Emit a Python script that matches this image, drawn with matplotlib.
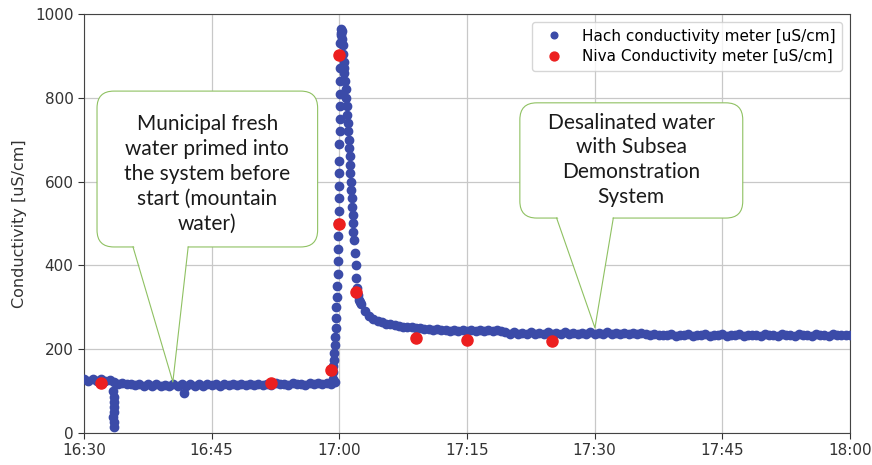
import numpy as np
import pandas as pd
import matplotlib
matplotlib.use("Agg")
import matplotlib.pyplot as plt
import matplotlib.dates as mdates
from matplotlib.patches import FancyBboxPatch, Polygon

# Hach meter, regular logging (minutes after 16:30, every 0.5 min)
hach_pre_start = 0.0
hach_pre_vals = [128, 124, 129, 125, 128, 124, 127,
                 122, 118, 120, 116, 118, 114, 117, 113, 116, 113, 116, 112, 115, 112,
                 116, 113, 116, 113, 117, 113, 116, 113, 117, 114, 116, 113, 117, 114, 117, 114, 117, 114, 118, 114,
                 118, 115, 118, 115, 119, 116, 118, 115, 119, 116, 118, 115, 119, 116, 119, 116, 119, 117, 122]
hach_post_start = 32.5
hach_post_vals = [308, 290, 279, 272, 267, 264, 261, 259, 257, 256, 254, 253, 252, 251, 250, 249,
                  248, 246, 248, 245, 247, 244, 247, 244, 246, 244, 246, 243, 246, 243, 246, 243, 245, 243,
                  240, 237, 240, 237, 239, 237, 240, 236, 239, 237, 240, 236, 239, 237, 240, 236, 239,
                  237, 239, 236, 240, 237, 239, 236, 240, 237, 239, 236, 239, 237, 239, 236, 239,
                  236, 233, 236, 233, 235, 233, 236, 232, 235, 233, 236, 232, 235, 233, 236, 232, 235,
                  233, 236, 232, 235, 233, 236, 232, 235, 233, 235, 232, 236, 233, 235, 232, 236, 233,
                  235, 232, 236, 233, 235, 232, 236, 233, 235, 232, 236, 233, 235, 233, 235]

# Hach meter, extra readings (dip, outlier and the peak)
hach_extra_t = [3.45, 3.5, 3.5, 3.55, 3.5, 3.45, 3.5, 3.5, 11.7,
                29.2, 29.25, 29.3, 29.35, 29.4, 29.45, 29.5, 29.55, 29.6, 29.65, 29.7, 29.75,
                29.8, 29.83, 29.86, 29.88, 29.9, 29.92, 29.94, 29.96, 29.98, 30.0, 30.01, 30.02,
                30.03, 30.04, 30.05, 30.06, 30.08, 30.1, 30.12, 30.15,
                30.2, 30.25, 30.3, 30.35, 30.4, 30.45, 30.5, 30.55,
                30.6, 30.7, 30.75, 30.8, 30.9, 30.95, 31.0, 31.05, 31.1, 31.15, 31.2, 31.25,
                31.3, 31.35, 31.4, 31.45, 31.5, 31.55, 31.6, 31.65, 31.7, 31.8, 31.9, 32.0,
                32.1, 32.2, 32.3, 32.4]
hach_extra_v = [100, 86, 74, 62, 50, 38, 26, 14, 95,
                130, 145, 160, 175, 190, 210, 230, 250, 275, 300, 325, 350,
                380, 410, 440, 470, 500, 530, 560, 590, 620, 650, 690, 720,
                750, 780, 810, 840, 870, 900, 930, 955,
                965, 950, 960, 940, 925, 905, 885, 870,
                860, 840, 820, 800, 780, 760, 740, 720, 700, 680, 660, 640,
                620, 600, 580, 560, 540, 520, 500, 480, 460, 430, 400, 370,
                345, 330, 318, 312]

# Niva meter
niva_t = [2, 22, 29, 30, 30, 32, 39, 45, 55]
niva_v = [119, 119, 150, 902, 499, 336, 227, 223, 219]

base = pd.Timestamp("2019-01-01 16:30")


def to_time(minutes):
    return base + pd.to_timedelta(np.asarray(minutes, dtype=float), unit="m")


hach_t = np.concatenate([hach_pre_start + 0.5 * np.arange(len(hach_pre_vals)),
                         np.asarray(hach_extra_t),
                         hach_post_start + 0.5 * np.arange(len(hach_post_vals))])
hach_v = np.concatenate([hach_pre_vals, hach_extra_v, hach_post_vals])

HACH = "#3b4ba8"
NIVA = "#ec1f1f"
GREEN = "#8fc162"

fig = plt.figure(figsize=(8.72, 4.65), dpi=100)
ax = fig.add_axes([84 / 872, 32 / 465, 766 / 872, 419 / 465])

ax.plot(to_time(hach_t), hach_v, "o", ms=6, color=HACH, mec=HACH, ls="none",
        label="Hach conductivity meter [uS/cm]", zorder=3)
ax.plot(to_time(niva_t), niva_v, "o", ms=8, color=NIVA, mec=NIVA, ls="none",
        label="Niva Conductivity meter [uS/cm]", zorder=4)

ax.set_xlim(base, base + pd.Timedelta(minutes=90))
ax.set_ylim(0, 1000)
ax.xaxis.set_major_locator(mdates.MinuteLocator(byminute=[0, 15, 30, 45]))
ax.xaxis.set_major_formatter(mdates.DateFormatter("%H:%M"))
ax.set_yticks([0, 200, 400, 600, 800, 1000])
ax.grid(True, color="#c8c8c8", lw=0.9)
ax.set_axisbelow(True)
ax.tick_params(labelsize=11, colors="#333333", length=4)
for s in ax.spines.values():
    s.set_color("#444444")
ax.set_ylabel("Conductivity [uS/cm]", fontsize=11.5, color="#333333", labelpad=6)

leg = ax.legend(loc="upper right", fontsize=11, numpoints=1, handletextpad=0.8,
                borderpad=0.45, labelspacing=0.35, markerscale=0.8)
leg.set_zorder(10)


def callout(box, tail, text, text_y):
    x0, y0, x1, y1 = box
    ax.add_patch(FancyBboxPatch((x0, y0), x1 - x0, y1 - y0,
                                boxstyle="round,pad=0,rounding_size=0.022",
                                mutation_aspect=1.83, transform=ax.transAxes,
                                fc="white", ec=GREEN, lw=0.8, zorder=5))
    bx0, bx1, tx, ty = tail
    ax.add_patch(Polygon([(bx0, y0 + 0.01), (bx1, y0 + 0.01), (tx, ty)],
                         closed=True, transform=ax.transAxes,
                         fc="white", ec="none", zorder=6))
    ax.plot([bx0, tx, bx1], [y0, ty, y0], transform=ax.transAxes,
            color=GREEN, lw=0.8, zorder=7)
    ax.text((x0 + x1) / 2, text_y, text, transform=ax.transAxes,
            ha="center", va="center", fontsize=15, family="Lato",
            linespacing=1.3, color="#1a1a1a", zorder=8)


callout((0.017, 0.444, 0.305, 0.816), (0.064, 0.136, 0.116, 0.122),
        "Municipal fresh\nwater primed into\nthe system before\nstart (mountain\nwater)", 0.618)
callout((0.569, 0.513, 0.860, 0.788), (0.617, 0.691, 0.667, 0.251),
        "Desalinated water\nwith Subsea\nDemonstration\nSystem", 0.652)

fig.savefig("out.png", dpi=100)
